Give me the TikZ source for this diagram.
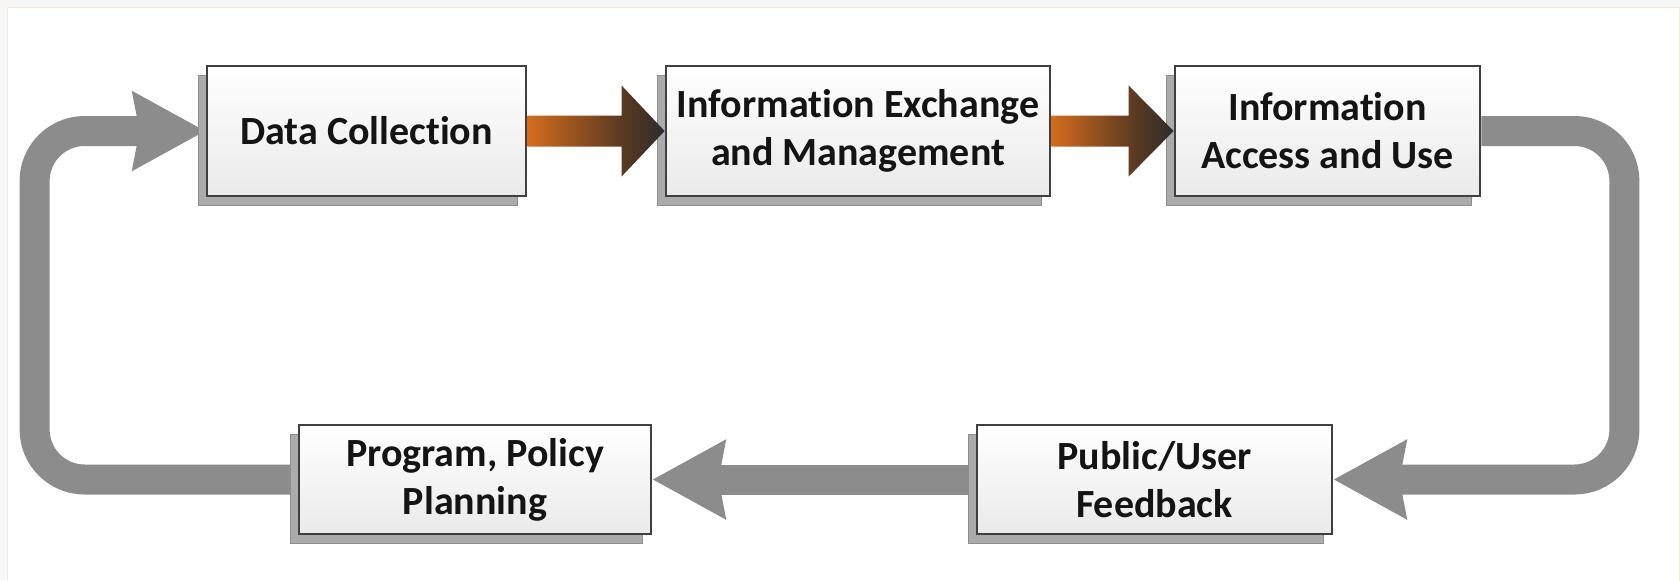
\documentclass[tikz,border=0pt]{standalone}
\usepackage{fontspec}
\setmainfont{Carlito}[Ligatures=NoCommon]
\usetikzlibrary{arrows.meta,shadows,calc}

\definecolor{canvas}{HTML}{F7F7F7}
\definecolor{panelrule}{HTML}{F6ECD2}
\definecolor{loopgrey}{HTML}{8C8C8C}
\definecolor{boxrule}{HTML}{404040}
\definecolor{boxshade}{HTML}{EAEAEA}
\definecolor{shadowfill}{HTML}{ABABAB}
\definecolor{shadowrule}{HTML}{8E8E8E}
\definecolor{flowA}{HTML}{D46C1E}
\definecolor{flowB}{HTML}{5A3A22}
\definecolor{flowC}{HTML}{2E2B2B}
% the path's bounding box spans 25bp..75bp of the shading
\pgfdeclarehorizontalshading{flowshade}{100bp}{color(0bp)=(flowA); color(25bp)=(flowA); color(59bp)=(flowB); color(75bp)=(flowC); color(100bp)=(flowC)}

\pgfdeclarelayer{canvaslayer}
\pgfdeclarelayer{looplayer}
\pgfsetlayers{canvaslayer,looplayer,main}

\begin{document}
\begin{tikzpicture}[x=0.5pt,y=-0.5pt,
  stage/.style={draw=boxrule, line width=1.4pt, top color=white, bottom color=boxshade,
    inner sep=0pt, align=center, text=black!92,
    font=\fontsize{20pt}{24pt}\selectfont\bfseries,
    general shadow={fill=shadowfill, draw=shadowrule, line width=0.4pt,
      shadow xshift=-4.25pt, shadow yshift=-4.5pt}},
  tallstage/.style={stage, minimum height=65pt},
  lowstage/.style={stage, minimum height=54.5pt},
  loop/.style={draw=loopgrey, line width=15pt, rounded corners=25pt,
    -{Stealth[length=36pt, width=38pt, inset=3pt]}},
  flow/.style={shading=flowshade}
]
\useasboundingbox (0,0) rectangle (1680,580);

% page background and white panel
\begin{pgfonlayer}{canvaslayer}
  \fill[canvas] (0,0) rectangle (1680,580);
  \filldraw[fill=white, draw=panelrule, line width=0.5pt] (7,7) rectangle (1679,583);
\end{pgfonlayer}

% process stages
\node[tallstage, minimum width=159.5pt] (collect)  at (366.5,131) {Data Collection};
\node[tallstage, minimum width=192pt]   (exchange) at (858,131)   {Information Exchange\\and Management};
\node[tallstage, minimum width=152.5pt] (access)   at (1327.5,131) {Information\\Access and Use};
\node[lowstage,  minimum width=176pt]   (planning) at (475,479.5)  {Program, Policy\\Planning};
\node[lowstage,  minimum width=177.5pt] (feedback) at (1154.5,479.5) {Public/User\\Feedback};

% grey feedback loop
\begin{pgfonlayer}{looplayer}
  \draw[loop] (access.east) -- ++(143,0) |- (feedback.east);
  \draw[loop] (feedback.west) -- (planning.east);
  \draw[loop] (planning.west) -- ++(-263,0) |- (collect.west);
\end{pgfonlayer}

% shaded flow arrows along the top row
\foreach \a/\b/\h in {collect/exchange/43, exchange/access/45}{
  \path[flow] ($(\a.east)+(0,-15.5)$) -- ($(\b.west)+(-\h,-15.5)$)
    -- ($(\b.west)+(-\h,-45.5)$) -- (\b.west) -- ($(\b.west)+(-\h,45.5)$)
    -- ($(\b.west)+(-\h,15.5)$) -- ($(\a.east)+(0,15.5)$) -- cycle;
}
\end{tikzpicture}
\end{document}
